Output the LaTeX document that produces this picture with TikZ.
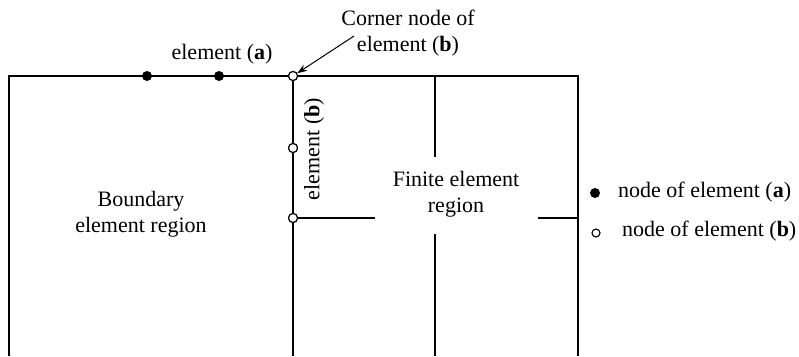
\documentclass[tikz,border=0pt]{standalone}
\usepackage{fontspec}
\setmainfont{Liberation Serif}
\usetikzlibrary{arrows.meta}
\begin{document}
\begin{tikzpicture}[x=1pt,y=-1pt,
  edge/.style={line width=2pt},
  opennode/.style={circle,draw,line width=1.1pt,fill=white,inner sep=0pt,minimum size=9pt},
  fullnode/.style={circle,fill=black,inner sep=0pt,minimum size=10pt},
  lbl/.style={font=\fontsize{22}{25.5}\selectfont,align=center,inner sep=0pt}]
\useasboundingbox (0,0) rectangle (799,356);
% outline
\coordinate (BL) at (9,356);
\coordinate (TL) at (9,76);
\coordinate (TR) at (578,76);
\coordinate (BR) at (578,356);
\coordinate (MB) at (293,356);
\coordinate (IT) at (435,76);
\coordinate (IE) at (435,157);
\coordinate (IS) at (435,234);
\coordinate (IB) at (435,356);
\coordinate (HE) at (375,218);
\coordinate (HS) at (538,218);
\coordinate (HR) at (578,218);
\draw[edge] (BL) -- (TL) -- (TR) -- (BR);
\draw[edge] (IT) -- (IE);
\draw[edge] (IS) -- (IB);
\draw[edge] (HS) -- (HR);
\node[opennode] (c1) at (293,76) {};
\node[opennode] (c2) at (293,148) {};
\node[opennode] (c3) at (293,218) {};
\draw[edge] (c1) -- (c2) -- (c3) -- (MB);
\draw[edge] (c3) -- (HE);
\node[opennode] at (293,76) {};
\node[opennode] at (293,148) {};
\node[opennode] at (293,218) {};
\node[fullnode] (a1) at (147,76) {};
\node[fullnode] (a2) at (219,76) {};
% labels
\node[lbl,anchor=base] (la) at (222,59) {element (\textbf{a})};
\node[lbl] (corner) at (408,33) {Corner node of\\element (\textbf{b})};
\coordinate (arrs) at (354,36);
\draw[line width=1pt,-{Stealth[length=10pt,width=7pt]}] (arrs) -- (c1);
\node[lbl,rotate=90] (lb) at (314,149) {element (\textbf{b})};
\node[lbl] (bnd) at (141,214) {Boundary\\element region};
\node[lbl] (fin) at (456,194) {Finite element\\region};
% legend
\node[fullnode] (k1) at (595,193) {};
\node[lbl,anchor=base west] (t1) at (618,197) {node of element (\textbf{a})};
\node[opennode,minimum size=8pt] (k2) at (596,233) {};
\node[lbl,anchor=base west] (t2) at (622,236) {node of element (\textbf{b})};
\end{tikzpicture}
\end{document}
